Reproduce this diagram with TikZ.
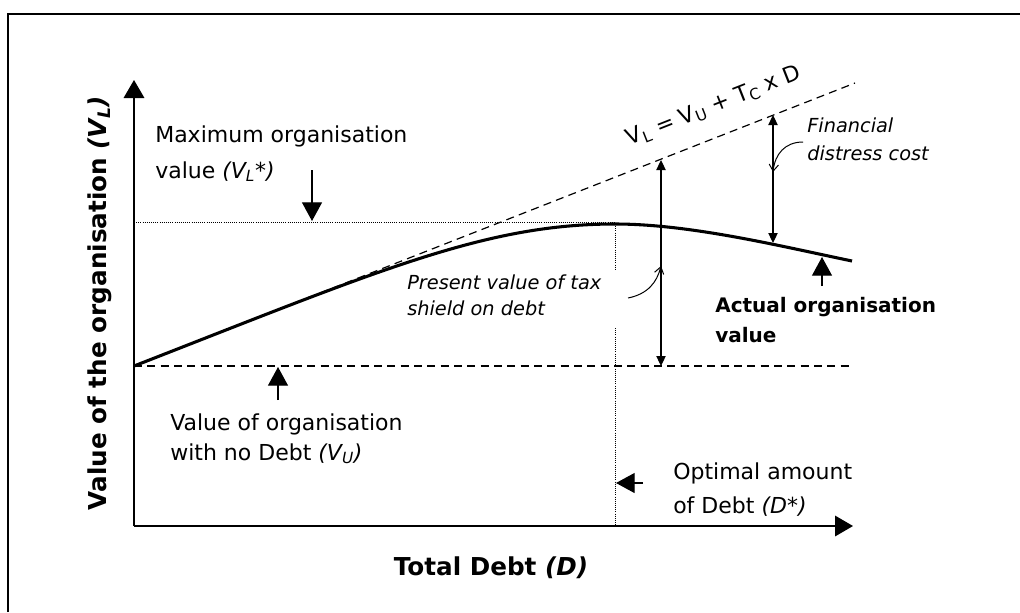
\documentclass[tikz,border=0pt]{standalone}
\usepackage{fontspec}
\setmainfont{DejaVu Sans}
\usetikzlibrary{arrows.meta}
\begin{document}
\begin{tikzpicture}[x=0.75pt,y=-0.75pt,
  frame/.style={line width=1.4pt},
  axis/.style={line width=0.9pt,-{Triangle[length=13.5pt,width=15.5pt]}},
  pointer/.style={line width=0.9pt,-{Triangle[length=14pt,width=15pt]}},
  span/.style={line width=0.8pt,{Triangle[length=7.5pt,width=7pt]}-{Triangle[length=7.5pt,width=7pt]}},
  hook/.style={line width=0.75pt,-{Straight Barb[length=5pt,width=7pt]}},
  guide/.style={line width=0.6pt,densely dotted},
  level/.style={line width=0.9pt,dash pattern=on 6pt off 4pt},
  curve/.style={line width=2.3pt},
  % multi-line labels are placed by the baseline of their last line
  txt/.style={inner sep=0pt,anchor=base west,align=left},
  reg/.style={font=\fontsize{16.5}{#1}\selectfont},
  ital/.style={font=\fontsize{14.5}{#1}\selectfont\itshape},
  bld/.style={font=\fontsize{15}{#1}\selectfont\bfseries}]
\useasboundingbox (0,0) rectangle (1020,612);

% outer frame (left and top edges)
\draw[frame] (8,612) -- (8,14) -- (1020,14);

% key points
\coordinate (O) at (134,526);
\coordinate (ytip) at (134,80);
\coordinate (xtip) at (853,526);
\coordinate (vu0) at (134,366);
\coordinate (vuend) at (853,366);
\coordinate (vlend) at (855,83);
\coordinate (peak) at (615,224);
\coordinate (cend) at (852,261);
\coordinate (ymax) at (134,222);
\coordinate (dstar) at (615,526);
\coordinate (gaptop) at (615,270);
\coordinate (gapbot) at (615,328);

% guides to the optimum (the vertical one is broken where the label sits)
\draw[guide] (ymax) -- (615,222);
\draw[guide] (peak) -- (gaptop);
\draw[guide] (gapbot) -- (dstar);

% value lines
\draw[level] (vu0) -- (vuend);
\draw[level] (vu0) -- (vlend);
\node[inner sep=0pt,anchor=base,rotate=21.5,font=\fontsize{16.5}{18}\selectfont] (vleq) at (716,112)
  {V\textsubscript{L} = V\textsubscript{U} + T\textsubscript{C} x D};
\draw[curve] (vu0) .. controls (380,270) and (485,224) .. (peak)
             .. controls (690,224) and (780,246) .. (cend);

% axes
\draw[axis] (O) -- (ytip);
\draw[axis] (O) -- (xtip);

% axis titles
\node[font=\fontsize{18.5}{20}\selectfont\bfseries,rotate=90,anchor=base] (ylab) at (106,303)
  {Value of the organisation \textit{(V\textsubscript{L})}};
\node[font=\fontsize{18.5}{20}\selectfont\bfseries,anchor=base] (xlab) at (491,575)
  {Total Debt \textit{(D)}};

% maximum organisation value
\node[txt,reg=27] (maxv) at (155,178)
  {Maximum organisation\\value \textit{(V\textsubscript{L}*)}};
\coordinate (maxtail) at (312,170);
\coordinate (maxtip) at (312,221);
\draw[pointer] (maxtail) -- (maxtip);

% value with no debt
\node[txt,reg=22.5] (vuv) at (170,460)
  {Value of organisation\\with no Debt \textit{(V\textsubscript{U})}};
\coordinate (vutail) at (278,400);
\coordinate (vutip) at (278,367);
\draw[pointer] (vutail) -- (vutip);

% optimal amount of debt
\node[txt,reg=25] (optv) at (673,513)
  {Optimal amount\\of Debt \textit{(D*)}};
\coordinate (opttail) at (643,483);
\coordinate (opttip) at (616,483);
\draw[pointer] (opttail) -- (opttip);

% actual organisation value
\node[txt,bld=22.5] (actv) at (715,342)
  {Actual organisation\\value};
\coordinate (acttail) at (822,286);
\coordinate (acttip) at (822,257);
\draw[pointer] (acttail) -- (acttip);

% tax shield span
\coordinate (taxtop) at (661,160);
\coordinate (taxbot) at (661,366);
\draw[span] (taxbot) -- (taxtop);
\node[txt,ital=19] (taxv) at (407,315)
  {Present value of tax\\shield on debt};
\coordinate (taxhook) at (661,266);
\draw[hook] (628,298) .. controls (648,294) and (657,282) .. (taxhook);

% financial distress span
\coordinate (fdtop) at (773,115);
\coordinate (fdbot) at (773,243);
\draw[span] (fdbot) -- (fdtop);
\node[txt,ital=21] (fdv) at (807,160)
  {Financial\\distress cost};
\coordinate (fdhook) at (773,172);
\draw[hook] (803,142) .. controls (785,142) and (775,154) .. (fdhook);
\end{tikzpicture}
\end{document}
